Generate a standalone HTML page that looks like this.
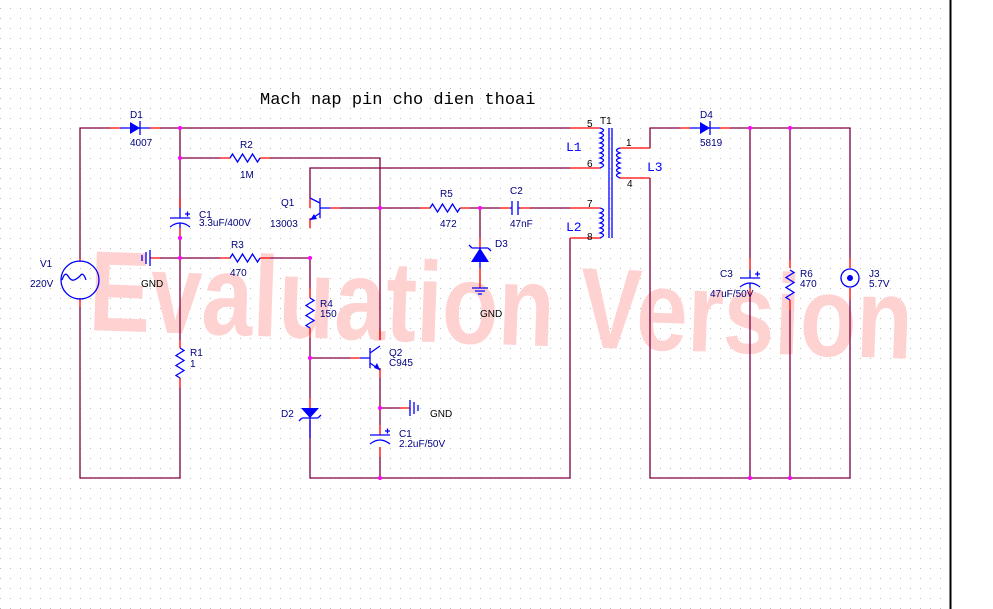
<!DOCTYPE html>
<html><head><meta charset="utf-8"><style>
html,body{margin:0;padding:0;background:#fff;}
svg{display:block;}
text{font-family:"Liberation Sans",sans-serif;font-size:10px;fill:#000080;}
.m{stroke:#800040;stroke-width:1.3;fill:none;}
.r{stroke:#ff0000;stroke-width:1.3;fill:none;}
.b{stroke:#0000ff;stroke-width:1.3;fill:none;}
.c{font-family:"Liberation Mono",monospace;font-size:13px;fill:#0000ff;}
</style></head><body>
<svg width="993" height="609" viewBox="0 0 993 609" xmlns="http://www.w3.org/2000/svg">
<defs><pattern id="g" x="0" y="8" width="10" height="10" patternUnits="userSpaceOnUse"><rect x="0" y="0" width="1" height="1" fill="#bbb"/></pattern></defs>
<rect width="950" height="609" fill="url(#g)"/>
<line x1="950.5" y1="0" x2="950.5" y2="609" stroke="#000" stroke-width="2"/>
<!-- watermark -->
<g transform="translate(88,330) rotate(2) scale(1,1.3)">
<text x="0" y="0" style="font-family:'Liberation Sans',sans-serif;font-weight:bold;font-size:88px;fill:#ffd2d2" textLength="824" lengthAdjust="spacingAndGlyphs">Evaluation Version</text>
</g>
<text x="260" y="104" style="font-family:'Liberation Mono',monospace;font-size:17px;fill:#000">Mach nap pin cho dien thoai</text>
<!-- maroon wires -->
<path class="m" d="M80 258V128H110 M160 128H570 M80 307V478H180V388 M180 340V238 M180 208V128 M180 158H220 M270 158H380V340 M310 198V168H570 M340 208H420 M470 208H500 M530 208H570 M160 258H220 M270 258H310V288 M310 338V398 M310 438V478H570V238 M310 358H350 M380 378V425 M380 457V478 M380 408H400 M480 208V238 M650 148V128H680 M730 128H850V258 M650 178V478H850V300 M750 128V258 M750 298V478 M790 128V260 M790 310V478"/>
<!-- red stubs -->
<path class="r" d="M110 128H120 M150 128H160 M220 158H230 M260 158H270 M180 198V208 M180 228V238 M150 258H160 M220 258H230 M260 258H270 M180 340V348 M180 378V388 M310 198V208 M310 218V228 M330 208H340 M420 208H430 M460 208H470 M500 208H510 M520 208H530 M480 238V248 M480 268V288 M310 288V298 M310 328V338 M310 398V408 M310 420V438 M350 358H360 M380 330V340 M380 368V378 M400 408H410 M380 425V435 M380 447V457 M570 128H600 M570 168H600 M570 208H600 M570 238H600 M620 148H650 M620 178H650 M680 128H690 M720 128H730 M750 258V270 M750 288V298 M790 260V268 M790 300V310 M850 258V268 M850 288V300 M80 258V262 M80 298V307 M750 128V128"/>
<!-- blue components -->
<g class="b">
<circle cx="80" cy="280" r="19"/>
<path d="M68 280 q3 -9 6 -4 q3 5 6 4 q3 -1 6 -4 q3 -5 6 4" transform="translate(-6,0)"/>
<path d="M120 128H150 M140 121V135"/>
<path d="M230 158l2.5 -4l5 8l5 -8l5 8l5 -8l5 8l2.5 -4 M230 258l2.5 -4l5 8l5 -8l5 8l5 -8l5 8l2.5 -4 M430 208l2.5 -4l5 8l5 -8l5 8l5 -8l5 8l2.5 -4"/>
<path d="M180 348l4 2.5l-8 5l8 5l-8 5l8 5l-8 5l4 2.5 M310 298l4 2.5l-8 5l8 5l-8 5l8 5l-8 5l4 2.5 M790 270l4 2.5l-8 5l8 5l-8 5l8 5l-8 5l4 2.5"/>
<path d="M170 218H190 M170 227q10 -8 20 0 M180 208V218 M180 223V228 M185 214h5 M187.5 211.5v5"/>
<path d="M370 435H390 M370 444q10 -8 20 0 M380 435V435 M385 431h5 M387.5 428.5v5"/>
<path d="M740 278H760 M740 287q10 -8 20 0 M750 270V278 M750 283V288 M755 274h5 M757.5 271.5v5"/>
<path d="M512 201V215 M518 201V215 M510 208H512 M518 208H520"/>
<path d="M320 198V218 M320 208H330 M320 203L310 198 M320 213L310 220"/>
<path d="M370 348V368 M360 358H370 M370 353L380 346 M370 363L380 370"/>
<path d="M480 248V268 M472 248H488 M472 248l-3 -3 M488 248l3 3 M310 408V438 M302 418H318 M302 418l-3 3 M318 418l3 -3"/>
<path d="M472 288H488 M475 291H485 M478 294H482 M410 400V416 M414 402V414 M418 405V411 M150 250V266 M146 252V264 M142 255V261"/>
<circle cx="850" cy="278" r="9"/>
<path d="M600 128q7 2 0 5q7 2 0 5q7 2 0 5q7 2 0 5q7 2 0 5q7 2 0 5q7 2 0 5q7 2 0 5 M600 208q7 2 0 5q7 2 0 5q7 2 0 5q7 2 0 5q7 2 0 5q7 2 0 5 M620 148q-7 2 0 5q-7 2 0 5q-7 2 0 5q-7 2 0 5q-7 2 0 5q-7 2 0 5 M609 128V238 M612 128V238"/>
</g>
<g fill="#0000ff">
<path d="M130 122L140 128L130 134Z"/>
<path d="M480 248L471 262H489Z"/>
<path d="M310 418L301 408H319Z"/>
<path d="M700 122L710 128L700 134Z"/>
<path d="M310 220L314 214L317 219Z"/>
<path d="M380 370L374 368L377 363Z"/>
<circle cx="850" cy="278" r="3"/>
</g>
<path class="b" d="M690 128H720 M710 121V135"/>
<!-- junctions -->
<g fill="#ff00ff">
<circle cx="180" cy="128" r="2"/><circle cx="180" cy="158" r="2"/><circle cx="180" cy="238" r="2"/><circle cx="180" cy="258" r="2"/>
<circle cx="310" cy="258" r="2"/><circle cx="380" cy="208" r="2"/><circle cx="480" cy="208" r="2"/><circle cx="310" cy="358" r="2"/>
<circle cx="380" cy="408" r="2"/><circle cx="380" cy="478" r="2"/><circle cx="750" cy="128" r="2"/><circle cx="790" cy="128" r="2"/>
<circle cx="750" cy="478" r="2"/><circle cx="790" cy="478" r="2"/>
</g>
<!-- labels -->
<text x="130" y="118">D1</text><text x="130" y="146">4007</text>
<text x="240" y="148">R2</text><text x="240" y="178">1M</text>
<text x="199" y="218">C1</text><text x="199" y="226">3.3uF/400V</text>
<text x="281" y="206">Q1</text><text x="270" y="227">13003</text>
<text x="231" y="248">R3</text><text x="230" y="276">470</text>
<text x="141" y="287" style="fill:#000">GND</text>
<text x="40" y="267">V1</text><text x="30" y="287">220V</text>
<text x="190" y="356">R1</text><text x="190" y="367">1</text>
<text x="320" y="307">R4</text><text x="320" y="317">150</text>
<text x="389" y="356">Q2</text><text x="389" y="366">C945</text>
<text x="281" y="417">D2</text>
<text x="430" y="417" style="fill:#000">GND</text>
<text x="399" y="437">C1</text><text x="399" y="447">2.2uF/50V</text>
<text x="440" y="197">R5</text><text x="440" y="227">472</text>
<text x="510" y="194">C2</text><text x="510" y="227">47nF</text>
<text x="495" y="247">D3</text>
<text x="480" y="317" style="fill:#000">GND</text>
<text x="600" y="124" style="fill:#000">T1</text>
<text x="587" y="127" style="fill:#000">5</text><text x="587" y="167" style="fill:#000">6</text>
<text x="587" y="207" style="fill:#000">7</text><text x="587" y="240" style="fill:#000">8</text>
<text x="626" y="146" style="fill:#000">1</text><text x="627" y="187" style="fill:#000">4</text>
<text class="c" x="566" y="151">L1</text><text class="c" x="566" y="231">L2</text><text class="c" x="647" y="171">L3</text>
<text x="700" y="118">D4</text><text x="700" y="146">5819</text>
<text x="720" y="277">C3</text><text x="710" y="297">47uF/50V</text>
<text x="800" y="277">R6</text><text x="800" y="287">470</text>
<text x="869" y="277">J3</text><text x="869" y="287">5.7V</text>
</svg>
</body></html>
